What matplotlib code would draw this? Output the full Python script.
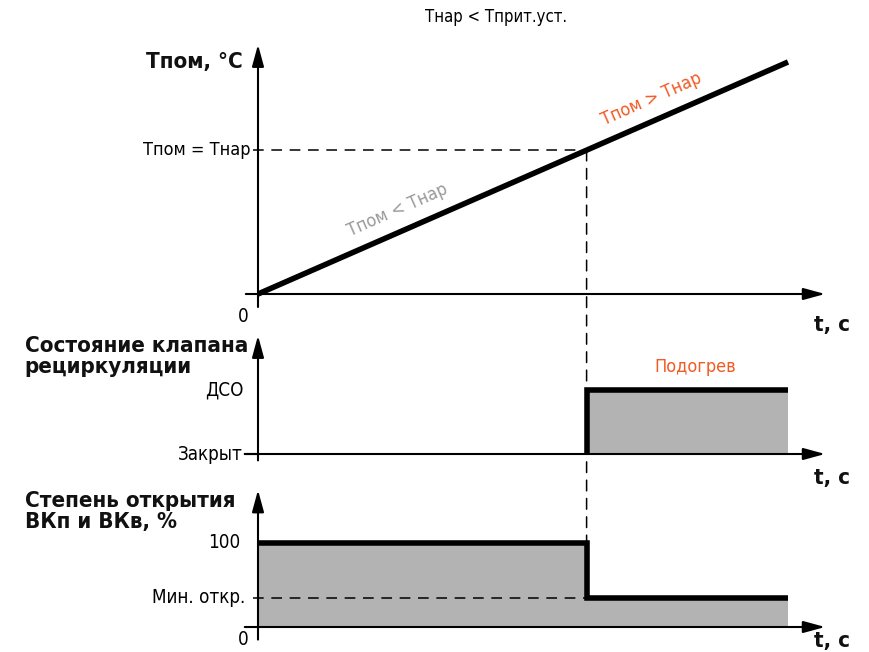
import matplotlib.pyplot as plt
from matplotlib.patches import ConnectionPatch

plt.rcParams['font.family'] = ['DejaVu Sans']
plt.rcParams['font.stretch'] = 'condensed'

# data
time = [0, 10]
temp = [0, 10]
t_switch = 6.2
T_nar = 6.2
t_end = 10

valve_t = [t_switch, t_switch, t_end]
valve_state = [0, 1, 1]

open_t = [0, t_switch, t_switch, t_end]
open_pct = [100, 100, 35, 35]
min_open = 35

orange = '#f15a24'
gray_fill = '#b3b3b3'

fig = plt.figure(figsize=(8.7, 6.52), dpi=100)
xlim = (-258 / 53, (870 - 258) / 53)

ax1 = fig.add_axes([0, 1 - 320 / 652, 1, 320 / 652])
ax2 = fig.add_axes([0, 1 - 470 / 652, 1, 150 / 652])
ax3 = fig.add_axes([0, 0, 1, 182 / 652])
ax1.set_ylim(-26 / 23.2, 294 / 23.2)
ax2.set_ylim(-16 / 64, 134 / 64)
ax3.set_ylim(-25 / 0.84, 157 / 0.84)
for ax in (ax1, ax2, ax3):
    ax.set_xlim(*xlim)
    ax.axis('off')

arrow = dict(arrowstyle='-|>,head_length=1.1,head_width=0.3', lw=1.5,
             color='black', mutation_scale=12, shrinkA=0, shrinkB=0)


def axes_arrows(ax, y0, ytop, x0, xtip=10.7):
    ax.annotate('', xy=(0, ytop), xytext=(0, y0), arrowprops=arrow)
    ax.annotate('', xy=(xtip, 0), xytext=(x0, 0), arrowprops=arrow)


bold = dict(fontweight='bold', color='#111111')
fs = 13.5

# panel 1: room temperature
axes_arrows(ax1, -0.56, 10.75, -0.23)
ax1.plot(time, temp, color='black', lw=4, solid_capstyle='butt')
ax1.plot([-0.1, t_switch], [T_nar, T_nar], color='black', lw=1.1,
         linestyle=(0, (7, 5)))
ax1.text(-0.15, T_nar, 'Tпом = Tнар', ha='right', va='center', fontsize=13)
ax1.text(-0.28, 10.0, 'Tпом, °C', ha='right', va='center', fontsize=16, **bold)
ax1.text(-0.28, -0.55, '0', ha='center', va='top', fontsize=fs)
ax1.text(10.5, -1.35, 't, c', ha='left', va='center', fontsize=16, **bold)
ax1.text(4.5, 11.95, 'Tнар < Tприт.уст.', ha='center', va='center', fontsize=12)
ax1.text(2.64, 3.6, 'Tпом < Tнар', ha='center', va='center', fontsize=13,
         color='#999999', rotation=23.8)
ax1.text(7.43, 8.4, 'Tпом > Tнар', ha='center', va='center', fontsize=13,
         color=orange, rotation=23.8)

# panel 2: recirculation valve state
axes_arrows(ax2, -0.1, 1.85, -0.25)
ax2.fill_between(valve_t, 0, valve_state, color=gray_fill, lw=0)
ax2.plot(valve_t, valve_state, color='black', lw=4, solid_joinstyle='miter',
         solid_capstyle='butt')
ax2.plot([-0.25, 0], [0, 0], color='black', lw=1.5)
ax2.text(-0.28, 1, 'ДСО', ha='right', va='center', fontsize=fs)
ax2.text(-0.28, 0, 'Закрыт', ha='right', va='center', fontsize=fs)
ax2.text(8.25, 1.36, 'Подогрев', ha='center', va='center', fontsize=13,
         color=orange)
ax2.text(10.5, -0.38, 't, c', ha='left', va='center', fontsize=16, **bold)
ax2.text(-4.4, 1.84, 'Состояние клапана\nрециркуляции', ha='left', va='top',
         fontsize=16, linespacing=1.05, **bold)

# panel 3: supply/exhaust opening
axes_arrows(ax3, -15, 163, -0.25)
ax3.fill_between(open_t, 0, open_pct, color=gray_fill, lw=0)
ax3.plot(open_t, open_pct, color='black', lw=4, solid_joinstyle='miter',
         solid_capstyle='butt')
ax3.plot([-0.1, t_switch], [min_open, min_open], color='black', lw=1.1,
         linestyle=(0, (7, 5)))
ax3.text(-0.34, 100, '100', ha='right', va='center', fontsize=fs)
ax3.text(-0.23, min_open, 'Мин. откр.', ha='right', va='center', fontsize=fs)
ax3.text(-0.28, -4, '0', ha='center', va='top', fontsize=fs)
ax3.text(10.5, -17, 't, c', ha='left', va='center', fontsize=16, **bold)
ax3.text(-4.4, 162, 'Степень открытия\nВКп и ВКв, %', ha='left', va='top',
         fontsize=16, linespacing=1.05, **bold)

# switching moment across all panels
con = ConnectionPatch(xyA=(t_switch, T_nar), coordsA=ax1.transData,
                      xyB=(t_switch, min_open), coordsB=ax3.transData,
                      color='black', lw=1.1, linestyle=(0, (7, 5)))
fig.add_artist(con)

fig.savefig('out.png', dpi=100)
